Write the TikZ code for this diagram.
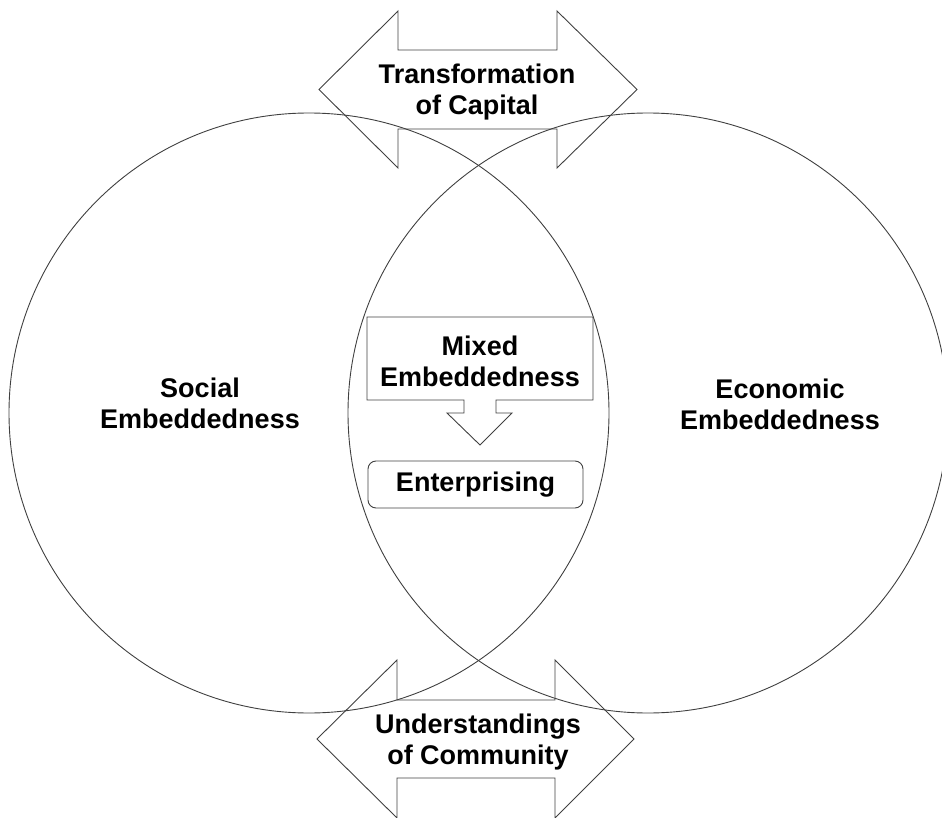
\documentclass[tikz,border=0pt]{standalone}
\usepackage{fontspec}
\setmainfont{Liberation Sans}
\begin{document}
\begin{tikzpicture}[x=1pt,y=-1pt,
  outline/.style={draw=black!75,line width=0.9pt,line join=miter},
  label/.style={font=\bfseries\fontsize{27}{31}\selectfont,align=center,inner sep=0pt,text=black},
  ring/.style={outline,circle,minimum size=600pt,inner sep=0pt}]
\useasboundingbox (0,0) rectangle (942,818);

% the two overlapping spheres
\node[ring] (social) at (309,413) {};
\node[ring] (economic) at (648,413) {};

% double arrow at the top
\draw[outline] (319,89.5) -- (398,11) -- (398,50) -- (557,50) -- (557,11)
  -- (637,89.5) -- (557,168) -- (557,129) -- (398,129) -- (398,168) -- cycle;
\node[label] (capital) at (477,92.5) {Transformation\\of Capital};

% double arrow at the bottom
\draw[outline] (317,739) -- (397,660) -- (397,700) -- (555,700) -- (555,660)
  -- (634,739) -- (555,818) -- (555,778) -- (397,778) -- (397,818) -- cycle;
\node[label] (community) at (478,742.5) {Understandings\\of Community};

% sphere labels
\node[label] (sociallabel) at (200,403.7) {Social\\Embeddedness};
\node[label] (economiclabel) at (780,404) {Economic\\Embeddedness};

% callout box with downward arrow
\draw[outline] (367,317) -- (593,317) -- (593,400) -- (496,400) -- (496,413)
  -- (512,413) -- (480,445) -- (447,413) -- (464,413) -- (464,400)
  -- (367,400) -- cycle;
\node[label] (mixed) at (480,361.7) {Mixed\\Embeddedness};

% rounded box
\node[outline,label,rounded corners=8pt,minimum width=215pt,minimum height=47pt,
  inner sep=0pt] (enterprising) at (475.5,484.5) {Enterprising};
\end{tikzpicture}
\end{document}
